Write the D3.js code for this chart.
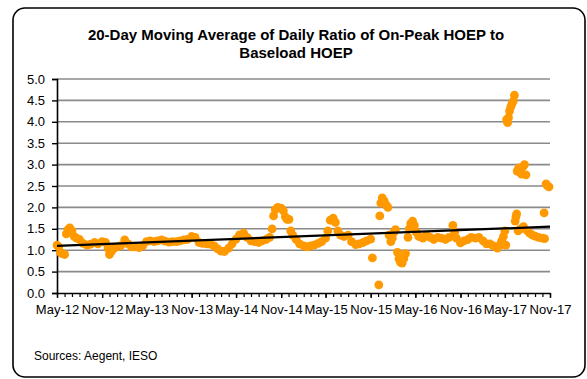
<!DOCTYPE html>
<html>
<head>
<meta charset="utf-8">
<script src="https://cdn.jsdelivr.net/npm/d3@7/dist/d3.min.js"></script>
<style>
  body { margin: 0; background: #fff; }
  svg { display: block; }
  text { font-family: "Liberation Sans", Arial, Helvetica, sans-serif; fill: #000; }
</style>
</head>
<body>
<svg id="chart" width="587" height="379"></svg>
<script>
// Chart text
const titleLines = ["20-Day Moving Average of Daily Ratio of On-Peak HOEP to", "Baseload HOEP"];
const sourceNote = "Sources: Aegent, IESO";

// Axis ticks
const yTicks = [0, 0.5, 1.0, 1.5, 2.0, 2.5, 3.0, 3.5, 4.0, 4.5, 5.0];
const xStart = "2012-05-01";
const xEnd = "2017-11-01";
const monthsPerLabel = 6;

// 20-day moving average of the on-peak / baseload HOEP ratio
const dates = [
  "2012-05-01","2012-05-08","2012-05-15","2012-05-22","2012-06-01","2012-06-08","2012-06-15","2012-06-22",
  "2012-07-01","2012-07-10","2012-07-20","2012-08-01","2012-08-15","2012-09-01","2012-09-15","2012-10-01",
  "2012-10-15","2012-11-01","2012-11-15","2012-11-25","2012-12-01","2012-12-10","2012-12-20",
  "2013-01-01","2013-01-15","2013-02-01","2013-02-15","2013-03-01","2013-03-15","2013-04-01","2013-04-15",
  "2013-05-01","2013-05-15","2013-06-01","2013-06-15","2013-07-01","2013-07-15","2013-08-01","2013-08-15",
  "2013-09-01","2013-09-15","2013-10-01","2013-10-15","2013-11-01","2013-11-15","2013-12-01","2013-12-15",
  "2014-01-01","2014-01-15","2014-02-01","2014-02-15","2014-03-01","2014-03-15","2014-04-01","2014-04-15",
  "2014-05-01","2014-05-15","2014-06-01","2014-06-15","2014-07-01","2014-07-15","2014-08-01","2014-08-15",
  "2014-09-01","2014-09-15","2014-09-25","2014-10-01","2014-10-08","2014-10-18","2014-11-01","2014-11-10",
  "2014-11-18","2014-11-25","2014-12-03","2014-12-10","2014-12-18",
  "2015-01-01","2015-01-15","2015-02-01","2015-02-15","2015-03-01","2015-03-15","2015-04-01","2015-04-15",
  "2015-05-01","2015-05-10","2015-05-20","2015-06-01","2015-06-10","2015-06-20","2015-07-01","2015-07-15",
  "2015-08-01","2015-08-15","2015-09-01","2015-09-15","2015-10-01","2015-10-15","2015-11-01","2015-11-08",
  "2015-12-04","2015-12-08","2015-12-12","2015-12-18","2015-12-26",
  "2016-01-04","2016-01-10","2016-01-15","2016-01-22","2016-01-28","2016-02-04","2016-02-10","2016-02-18",
  "2016-02-24","2016-03-01","2016-03-08","2016-03-15","2016-03-22","2016-04-01","2016-04-06","2016-04-12",
  "2016-04-20","2016-04-27","2016-05-05","2016-05-15","2016-06-01","2016-06-15","2016-07-01","2016-07-15",
  "2016-08-01","2016-08-15","2016-09-01","2016-09-15","2016-10-01","2016-10-08","2016-10-15","2016-11-01",
  "2016-11-15","2016-12-01","2016-12-15",
  "2017-01-01","2017-01-15","2017-02-01","2017-02-15","2017-03-01","2017-03-15","2017-04-01","2017-04-10",
  "2017-04-18","2017-04-25","2017-05-01","2017-05-05","2017-05-08","2017-05-12","2017-05-16","2017-05-20",
  "2017-05-25","2017-05-30","2017-06-04","2017-06-09","2017-06-12","2017-06-15","2017-06-18","2017-06-20",
  "2017-06-26","2017-07-02","2017-07-08","2017-07-14","2017-07-20","2017-07-26","2017-06-24","2017-07-04",
  "2017-07-16","2017-08-01","2017-08-10","2017-08-20","2017-09-01","2017-09-15","2017-10-01","2017-10-10",
  "2017-10-08","2017-10-16","2017-10-22","2017-10-28"
];
const ratio = [
  1.12,1.08,0.95,0.92,0.90,1.38,1.48,1.52,
  1.45,1.32,1.28,1.25,1.16,1.12,1.14,1.18,
  1.15,1.20,1.18,1.05,0.90,0.98,1.05,
  1.08,1.10,1.24,1.15,1.08,1.08,1.06,1.10,
  1.20,1.22,1.20,1.22,1.24,1.21,1.19,1.20,
  1.20,1.22,1.24,1.25,1.32,1.30,1.18,1.16,
  1.15,1.14,1.10,1.03,0.98,0.97,1.05,1.15,
  1.26,1.36,1.40,1.30,1.22,1.20,1.18,1.22,
  1.25,1.30,1.50,1.80,1.95,2.00,1.98,1.92,
  1.78,1.72,1.72,1.45,1.35,
  1.25,1.15,1.10,1.08,1.10,1.12,1.16,1.20,
  1.28,1.45,1.70,1.75,1.65,1.45,1.35,1.32,
  1.35,1.20,1.13,1.15,1.18,1.22,1.26,0.82,
  0.19,1.80,2.10,2.22,2.15,
  2.05,2.00,1.35,1.20,1.28,1.42,1.48,0.95,
  0.80,0.72,0.70,0.80,0.92,1.30,1.50,1.62,
  1.68,1.58,1.42,1.32,1.28,1.35,1.30,1.25,
  1.30,1.28,1.25,1.30,1.58,1.42,1.28,1.17,
  1.22,1.25,1.30,
  1.28,1.30,1.22,1.15,1.15,1.10,1.05,1.12,
  1.22,1.32,1.45,1.12,4.05,3.98,4.10,4.25,
  4.35,4.42,4.48,4.62,1.68,1.78,1.85,2.85,
  2.92,2.82,2.78,2.95,3.00,2.76,1.45,1.50,
  1.55,1.45,1.40,1.36,1.33,1.30,1.28,1.27,
  1.87,2.55,2.50,2.48
];

// Linear trend of the series, at the two ends of the axis
const trendDates = ["2012-05-01", "2017-11-01"];
const trendValues = [1.10, 1.55];

const parse = d3.timeParse("%Y-%m-%d");
const svg = d3.select("#chart");

// Outer frame
svg.append("rect")
  .attr("x", 13).attr("y", 8).attr("width", 572).attr("height", 369)
  .attr("rx", 12).attr("ry", 12)
  .attr("fill", "#fff").attr("stroke", "#000").attr("stroke-width", 1.6);

// Title
svg.append("text")
  .attr("x", 296).attr("y", 40)
  .attr("text-anchor", "middle")
  .style("font-size", "15px").style("font-weight", "bold")
  .selectAll("tspan").data(titleLines).join("tspan")
  .attr("x", 296).attr("dy", (d, i) => i === 0 ? 0 : 17.5)
  .text(d => d);

const x = d3.scaleTime().domain([parse(xStart), parse(xEnd)]).range([57, 550]);
const y = d3.scaleLinear().domain([0, 5]).range([293, 79]);

// Horizontal gridlines
svg.append("g").selectAll("line").data(yTicks.filter(v => v > 0)).join("line")
  .attr("x1", x.range()[0]).attr("x2", x.range()[1])
  .attr("y1", d => y(d)).attr("y2", d => y(d))
  .attr("stroke", "#8a8a8a").attr("stroke-width", 1.6);

// Y axis
const yAxis = svg.append("g").attr("transform", `translate(${x.range()[0]},0)`)
  .call(d3.axisLeft(y).tickValues(yTicks).tickFormat(d3.format(".1f")).tickSize(5).tickPadding(7));
yAxis.select(".domain").attr("stroke", "#000").attr("stroke-width", 1.6);
yAxis.selectAll(".tick line").attr("stroke", "#000").attr("stroke-width", 1.4);
yAxis.selectAll("text").style("font-size", "13px").style("font-family", "'Liberation Sans', Arial, sans-serif");

// X axis: monthly minor ticks, labelled every six months from the first month
const monthTicks = d3.timeMonth.range(parse(xStart), d3.timeDay.offset(parse(xEnd), 1));
const majorTicks = monthTicks.filter((d, i) => i % monthsPerLabel === 0);
const xMinor = svg.append("g").attr("transform", `translate(0,${y(0)})`)
  .call(d3.axisBottom(x).tickValues(monthTicks).tickFormat("").tickSize(4).tickSizeOuter(0));
xMinor.select(".domain").remove();
xMinor.selectAll(".tick line").attr("stroke", "#000").attr("stroke-width", 1.2);

const xAxis = svg.append("g").attr("transform", `translate(0,${y(0)})`)
  .call(d3.axisBottom(x).tickValues(majorTicks).tickFormat(d3.timeFormat("%b-%y"))
    .tickSize(5).tickSizeOuter(0).tickPadding(7));
xAxis.select(".domain").attr("stroke", "#000").attr("stroke-width", 1.6);
xAxis.selectAll(".tick line").attr("stroke", "#000").attr("stroke-width", 1.4);
xAxis.selectAll("text").style("font-size", "13px").style("font-family", "'Liberation Sans', Arial, sans-serif");

// Daily ratio markers
svg.append("g").selectAll("circle").data(dates.map((d, i) => ({ date: parse(d), value: ratio[i] })))
  .join("circle")
  .attr("cx", d => x(d.date)).attr("cy", d => y(d.value))
  .attr("r", 4.4)
  .attr("fill", "#ff9900");

// Trend line
svg.append("path")
  .datum(trendDates.map((d, i) => ({ date: parse(d), value: trendValues[i] })))
  .attr("fill", "none").attr("stroke", "#000").attr("stroke-width", 2.2)
  .attr("d", d3.line().x(d => x(d.date)).y(d => y(d.value)));

// Source note
svg.append("text")
  .attr("x", 34).attr("y", 360)
  .style("font-size", "12px")
  .text(sourceNote);
</script>
</body>
</html>
